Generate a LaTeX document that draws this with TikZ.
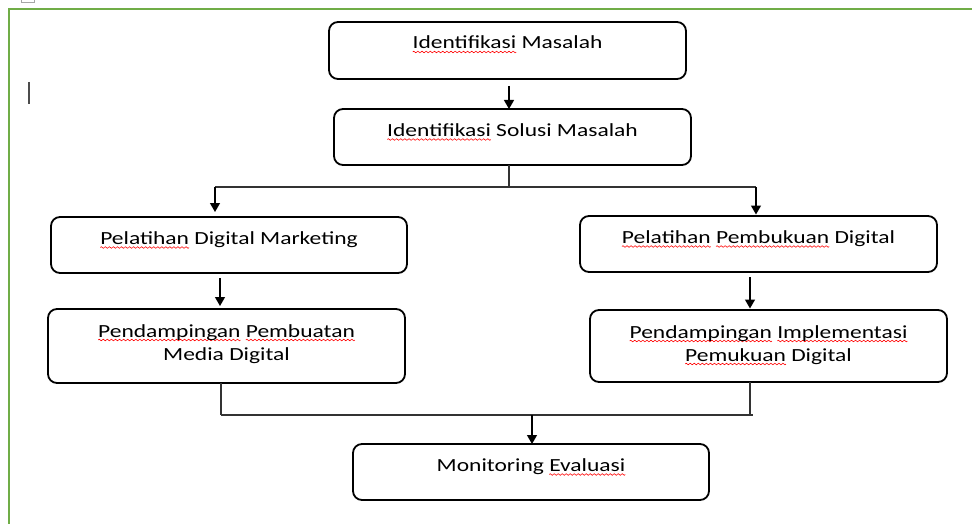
\documentclass[tikz,border=0pt]{standalone}
\usepackage{fontspec}
\setmainfont{Carlito}[FakeStretch=1.27]
\usetikzlibrary{arrows.meta}
\newsavebox\wavebox
\newsavebox\waveseg
\newcommand\redwave[1]{\sbox\wavebox{#1}\rlap{\lower4pt\hbox to \wd\wavebox{\xleaders\copy\waveseg\hfil}}\usebox\wavebox}
\definecolor{framegreen}{RGB}{112,173,71}
\tikzset{
  box/.style={draw, line width=1.8pt, rounded corners=9pt, anchor=north west, inner sep=0pt, outer sep=0pt},
  txt/.style={font=\fontsize{18.5}{23}\selectfont, align=center, inner sep=0pt, anchor=base},
  arr/.style={line width=1.3pt, -{Triangle[length=9pt,width=10pt]}},
  link/.style={line width=1.2pt, black!80},
}
\begin{document}
\sbox\waveseg{\begin{pgfpicture}
  \pgfpathrectangle{\pgfpoint{0pt}{-1pt}}{\pgfpoint{4pt}{2pt}}
  \pgfusepath{use as bounding box}
  \pgfsetlinewidth{0.6pt}
  \pgfsetstrokecolor{red}
  \pgfpathmoveto{\pgfpoint{0pt}{0pt}}
  \pgfpathsine{\pgfpoint{1pt}{0.8pt}}
  \pgfpathcosine{\pgfpoint{1pt}{-0.8pt}}
  \pgfpathsine{\pgfpoint{1pt}{-0.8pt}}
  \pgfpathcosine{\pgfpoint{1pt}{0.8pt}}
  \pgfusepath{stroke}
\end{pgfpicture}}%
\begin{tikzpicture}[x=1pt,y=-1pt]
\useasboundingbox (0,0) rectangle (972,524);
\clip (0,0) rectangle (972,524);
% frame and small marks
\draw[framegreen, line width=2.2pt] (9,540) -- (9,9) -- (990,9);
\draw[gray!70, line width=1pt] (21,-5) rectangle (34,3);
\draw[gray!60!black, line width=1.5pt] (29,82) -- (29,104);
% boxes
\node[box, minimum width=357pt, minimum height=57pt] (b1) at (329,22) {};
\node[box, minimum width=357pt, minimum height=56pt] (b2) at (334,109) {};
\node[box, minimum width=356pt, minimum height=56pt] (b3) at (51,217) {};
\node[box, minimum width=357pt, minimum height=74pt] (b4) at (48,309) {};
\node[box, minimum width=357pt, minimum height=56pt] (b5) at (580,216) {};
\node[box, minimum width=357pt, minimum height=72pt] (b6) at (590,310) {};
\node[box, minimum width=356pt, minimum height=56pt] (b7) at (353,444) {};
% texts (base anchor = baseline of last line)
\node[txt] (t1) at ([yshift=-27pt]b1.north) {\redwave{Identifikasi} Masalah};
\node[txt] (t2) at ([yshift=-27.5pt]b2.north) {\redwave{Identifikasi} Solusi Masalah};
\node[txt] (t3) at ([yshift=-27.5pt]b3.north) {\redwave{Pelatihan} Digital Marketing};
\node[txt] (t4) at ([yshift=-51pt]b4.north) {\redwave{Pendampingan} \redwave{Pembuatan}\\Media Digital};
\node[txt] (t5) at ([yshift=-27.5pt]b5.north) {\redwave{Pelatihan} \redwave{Pembukuan} Digital};
\node[txt] (t6) at ([yshift=-51pt]b6.north) {\redwave{Pendampingan} \redwave{Implementasi}\\\redwave{Pemukuan} Digital};
\node[txt] (t7) at ([yshift=-27.5pt]b7.north) {Monitoring \redwave{Evaluasi}};
% helper coordinates
\coordinate (j1) at (509,187);
\coordinate (hl) at (215,187);
\coordinate (hr) at (756,187);
\coordinate (x1) at (220,0);
\coordinate (x2) at (750,0);
\coordinate (ml) at (221,415);
\coordinate (mr) at (750,415);
\coordinate (me) at (753,415);
\coordinate (m) at (532,415);
% connectors
\draw[arr, shorten <=7pt] (b1.south -| j1) -- (b2.north -| j1);
\draw[link] (b2.south -| j1) -- (j1);
\draw[link] (hl) -- (hr);
\draw[arr, shorten >=5pt] (hl) -- (hl |- b3.north);
\draw[arr, shorten >=1.5pt] (hr) -- (hr |- b5.north);
\draw[arr, shorten <=5pt, shorten >=3pt] (b3.south -| x1) -- (b4.north -| x1);
\draw[arr, shorten <=5pt, shorten >=1.5pt] (b5.south -| x2) -- (b6.north -| x2);
\draw[link] (b4.south -| ml) -- (ml);
\draw[link] (b6.south -| mr) -- (mr);
\draw[link] (ml) -- (me);
\draw[arr] (m) -- (m |- b7.north);
\end{tikzpicture}
\end{document}
